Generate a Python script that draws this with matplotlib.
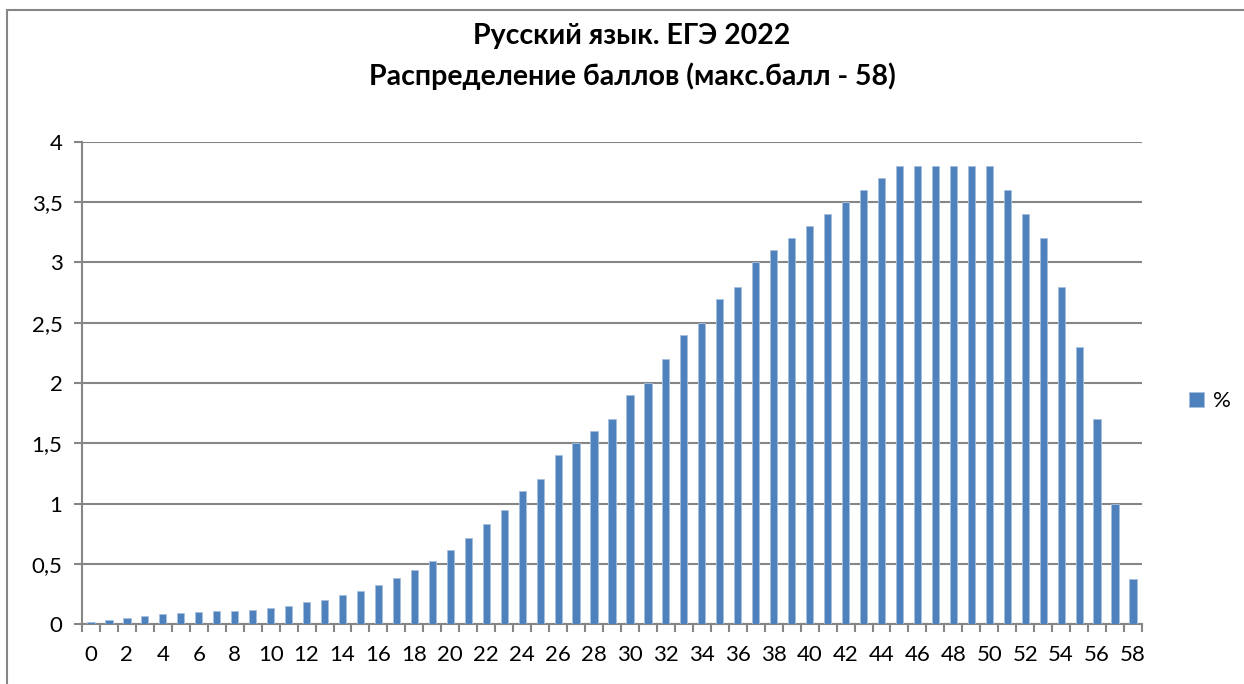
import matplotlib
matplotlib.use("Agg")
import matplotlib.pyplot as plt
from matplotlib.patches import Rectangle
from matplotlib.ticker import FuncFormatter, MultipleLocator

# баллы 0..58 и доля участников, %
scores = list(range(59))
percent = [
    0.02, 0.03, 0.05, 0.07, 0.08, 0.09, 0.10, 0.11, 0.11, 0.12,
    0.13, 0.15, 0.18, 0.20, 0.24, 0.27, 0.32, 0.38, 0.45, 0.52,
    0.61, 0.71, 0.83, 0.95, 1.10, 1.20, 1.40, 1.50, 1.60, 1.70,
    1.90, 2.00, 2.20, 2.40, 2.50, 2.70, 2.80, 3.00, 3.10, 3.20,
    3.30, 3.40, 3.50, 3.60, 3.70, 3.80, 3.80, 3.80, 3.80, 3.80,
    3.80, 3.60, 3.40, 3.20, 2.80, 2.30, 1.70, 1.00, 0.37,
]
title_lines = ["Русский язык. ЕГЭ 2022", "Распределение баллов (макс.балл - 58)"]
series_name = "%"

plt.rcParams['font.family'] = ['Lato', 'DejaVu Sans']

W, H = 1244, 684
fig = plt.figure(figsize=(W / 100, H / 100), dpi=100)
ax = fig.add_axes([82 / W, 60 / H, (1142 - 82) / W, (624 - 142) / H])

grey = '#868686'
bars = ax.bar(scores, percent, width=0.4, color='#4F81BD',
              edgecolor='#A7C0DE', linewidth=0.6, label=series_name, zorder=3)

ax.set_xlim(-0.5, 58.5)
ax.set_ylim(0, 4)
ax.yaxis.set_major_locator(MultipleLocator(0.5))
ax.yaxis.set_major_formatter(FuncFormatter(lambda v, p: f"{v:g}".replace('.', ',')))
ax.grid(axis='y', color=grey, linewidth=1.5, zorder=0)

# подписи через один балл, засечки между категориями
ax.set_xticks(scores[::2])
ax.set_xticks([s - 0.5 for s in scores] + [58.5], minor=True)
ax.tick_params(axis='x', which='major', length=0, pad=15, labelsize=16)
ax.tick_params(axis='x', which='minor', length=6, width=1.5, color=grey)
ax.tick_params(axis='y', length=6, width=1.5, color=grey, pad=8, labelsize=16)

for side in ['top', 'right']:
    ax.spines[side].set_visible(False)
for side in ['left', 'bottom']:
    ax.spines[side].set_color(grey)
    ax.spines[side].set_linewidth(1.5)

fig.text(632 / W, 1 - 36 / H, title_lines[0], ha='center', va='center',
         fontsize=20.5, fontweight='bold')
fig.text(632 / W, 1 - 76 / H, title_lines[1], ha='center', va='center',
         fontsize=20.5, fontweight='bold')

ax.legend(loc='center left', bbox_to_anchor=(1142 / W + 0.022, 1 - 401 / H),
          bbox_transform=fig.transFigure, frameon=False, fontsize=16,
          handlelength=0.65, handleheight=0.65, handletextpad=0.4)

# рамка области диаграммы
fig.add_artist(Rectangle((7 / W, -0.05), 1.2, 1 - 10 / H + 0.05,
                         transform=fig.transFigure, fill=False,
                         edgecolor=grey, linewidth=1.5))

fig.savefig('out.png', dpi=100)
